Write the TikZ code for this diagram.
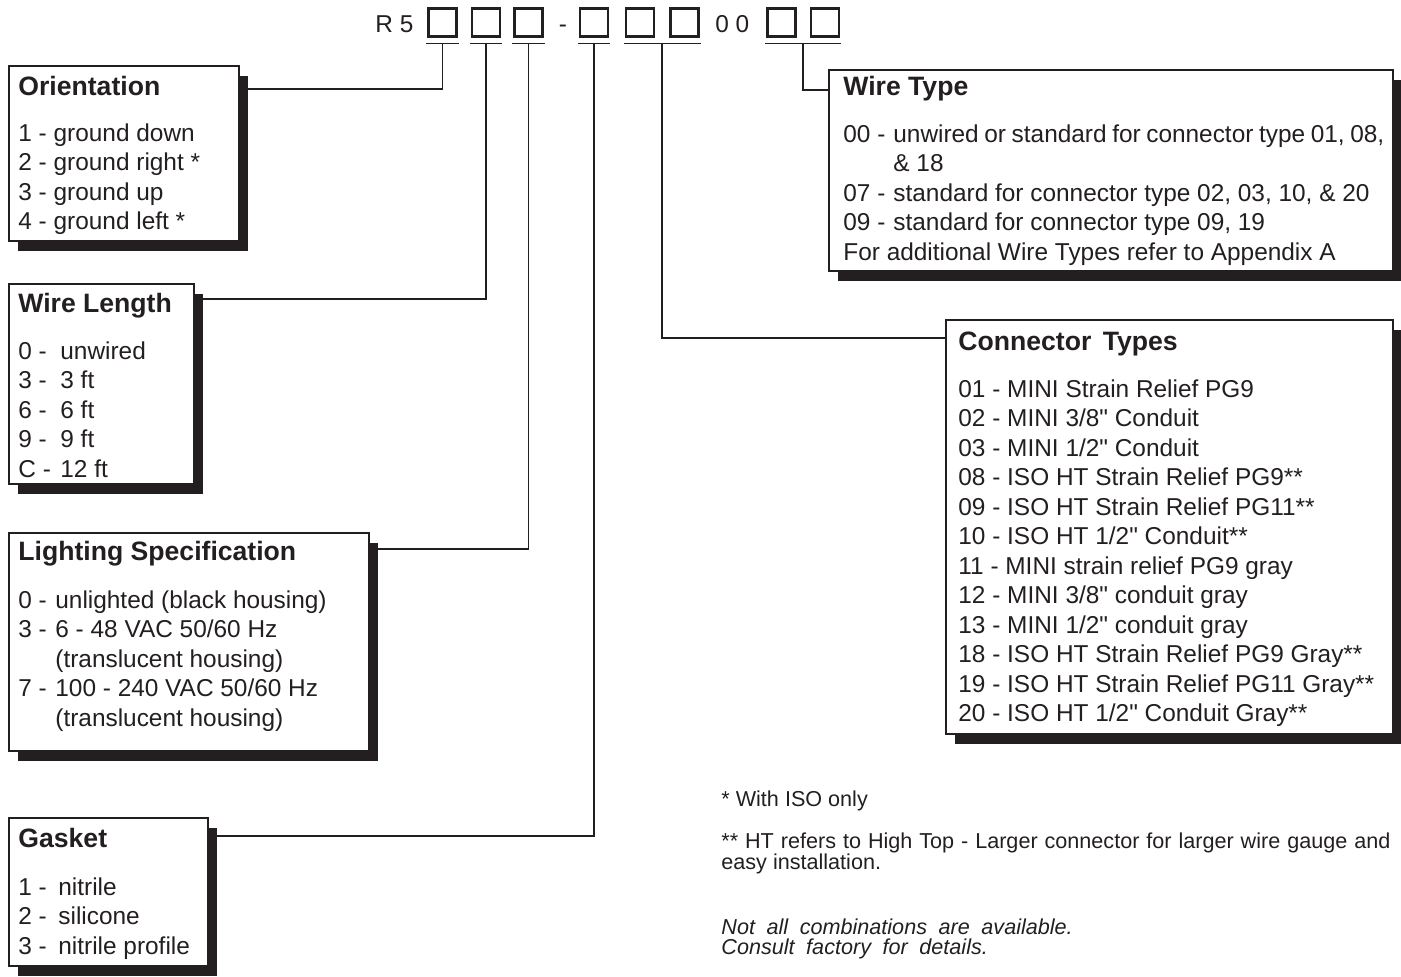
\documentclass[tikz,border=0pt]{standalone}
\usepackage{fontspec}
\setmainfont{Liberation Sans}[Ligatures=TeXReset]
\usetikzlibrary{positioning,calc,shadows}
\definecolor{inkcolor}{RGB}{35,31,32}

\newcommand{\selline}[3][18.5pt]{\makebox[#1][l]{#2}#3}

\begin{document}
\begin{tikzpicture}[x=0.5pt, y=-0.5pt, color=inkcolor,
      digit/.style={draw, line width=1.1pt, minimum size=14pt, inner sep=0pt},
      panel/.style={draw, line width=0.8pt, fill=white, anchor=north west, inner sep=0pt,
                    general shadow={fill=inkcolor, shadow xshift=4.5pt, shadow yshift=-5pt}},
      head/.style={anchor=base west, inner sep=0pt, font=\fontsize{13.3}{16}\selectfont\bfseries},
      items/.style={anchor=north west, inner sep=0pt, align=left, font=\fontsize{12.2}{14.75}\selectfont},
      codetext/.style={inner sep=0pt, font=\fontsize{12.2}{14.75}\selectfont},
      note/.style={anchor=north west, inner sep=0pt, font=\fontsize{10.8}{10.5}\selectfont},
      lead/.style={line width=0.8pt}
    ]
    \useasboundingbox (0,0) rectangle (1401,976);

    % part number
    \node[codetext, anchor=base west] (prefix) at (375,32) {R 5};
    \node[codetext, anchor=base] (dash) at (563,32) {-};
    \node[codetext, anchor=base west] (zeros) at (715,32) {0 0};
    \node[digit] (d1) at (442.5,22.5) {};
    \node[digit] (d2) at (486,22.5) {};
    \node[digit] (d3) at (528.5,22.5) {};
    \node[digit] (d4) at (594,22.5) {};
    \node[digit] (d5) at (640,22.5) {};
    \node[digit] (d6) at (684.5,22.5) {};
    \node[digit] (d7) at (781.5,22.5) {};
    \node[digit] (d8) at (825,22.5) {};
    \draw[lead] ([xshift=-0.5pt,yshift=-3pt]d1.south west) -- ([xshift=0.5pt,yshift=-3pt]d1.south east);
    \draw[lead] ([xshift=-0.5pt,yshift=-3pt]d2.south west) -- ([xshift=0.5pt,yshift=-3pt]d2.south east);
    \draw[lead] ([xshift=-0.5pt,yshift=-3pt]d3.south west) -- ([xshift=0.5pt,yshift=-3pt]d3.south east);
    \draw[lead] ([xshift=-0.5pt,yshift=-3pt]d4.south west) -- ([xshift=0.5pt,yshift=-3pt]d4.south east);
    \draw[lead] ([xshift=-0.5pt,yshift=-3pt]d5.south west) -- ([xshift=0.5pt,yshift=-3pt]d6.south east);
    \draw[lead] ([xshift=-0.5pt,yshift=-3pt]d7.south west) -- ([xshift=0.5pt,yshift=-3pt]d8.south east);
    \coordinate (t1) at ([yshift=-3pt]d1.south);
    \coordinate (t2) at ([yshift=-3pt]d2.south);
    \coordinate (t3) at ([yshift=-3pt]d3.south);
    \coordinate (t4) at ([yshift=-3pt]d4.south);
    \coordinate (t56) at ($(d5.south)!.5!(d6.south)+(0,6)$);
    \coordinate (t78) at ($(d7.south)!.5!(d8.south)+(0,6)$);

    % option panels
    \node[panel, minimum width=115pt, minimum height=87.5pt] (orient) at (8,65) {};
    \node[panel, minimum width=92.5pt, minimum height=100pt] (wlen) at (8,283) {};
    \node[panel, minimum width=180pt, minimum height=109pt] (light) at (8,532) {};
    \node[panel, minimum width=99.5pt, minimum height=74pt] (gasket) at (8,817) {};
    \node[panel, minimum width=282pt, minimum height=100.5pt] (wtype) at (828,69) {};
    \node[panel, minimum width=223.5pt, minimum height=207pt] (conn) at (945,319) {};

    \draw[lead] (t1) |- ([yshift=-12pt]orient.north east);
    \draw[lead] (t2) |- ([yshift=-8pt]wlen.north east);
    \draw[lead] (t3) |- ([yshift=-8.5pt]light.north east);
    \draw[lead] (t4) |- ([yshift=-9.5pt]gasket.north east);
    \draw[lead] (t56) |- ([yshift=-9.5pt]conn.north west);
    \draw[lead] (t78) |- ([yshift=-10.5pt]wtype.north west);

    \node[head] (orient-hd) at (18,95.5) {Orientation};
    \node[items] (orient-it) at (18,123) {1 - ground down\\2 - ground right *\\3 - ground up\\4 - ground left *};

    \node[head] (wlen-hd) at (18,312.5) {Wire Length};
    \node[items] (wlen-it) at (18,341) {\selline[21pt]{0 -}{unwired}\\\selline[21pt]{3 -}{3 ft}\\\selline[21pt]{6 -}{6 ft}\\\selline[21pt]{9 -}{9 ft}\\\selline[21pt]{C -}{12 ft}};

    \node[head] (light-hd) at (18,560.5) {Lighting Specification};
    \node[items] (light-it) at (18,590) {\selline{0 -}{unlighted (black housing)}\\\selline{3 -}{6 - 48 VAC 50/60 Hz}\\\selline{}{(translucent housing)}\\\selline{7 -}{100 - 240 VAC 50/60 Hz}\\\selline{}{(translucent housing)}};

    \node[head] (gasket-hd) at (18,847.5) {Gasket};
    \node[items] (gasket-it) at (18,877) {\selline[20pt]{1 -}{nitrile}\\\selline[20pt]{2 -}{silicone}\\\selline[20pt]{3 -}{nitrile profile}};

    \node[head] (wtype-hd) at (843,95.5) {Wire Type};
    \node[items] (wtype-it) at (843,124) {\selline[25pt]{00 -}{\spaceskip=2.8pt\relax unwired or standard for connector type 01, 08,}\\\selline[25pt]{}{\& 18}\\\selline[25pt]{07 -}{standard for connector type 02, 03, 10, \& 20}\\\selline[25pt]{09 -}{standard for connector type 09, 19}\\For additional Wire Types refer to Appendix A};

    \node[head] (conn-hd) at (958,350.5) {Connector\hspace{2pt} Types};
    \node[items] (conn-it) at (958,379) {01 - MINI Strain Relief PG9\\02 - MINI 3/8" Conduit\\03 - MINI 1/2" Conduit\\08 - ISO HT Strain Relief PG9**\\09 - ISO HT Strain Relief PG11**\\10 - ISO HT 1/2" Conduit**\\11 - MINI strain relief PG9 gray\\12 - MINI 3/8" conduit gray\\13 - MINI 1/2" conduit gray\\18 - ISO HT Strain Relief PG9 Gray**\\19 - ISO HT Strain Relief PG11 Gray**\\20 - ISO HT 1/2" Conduit Gray**};

    % footnotes
    \node[note] (iso-note) at (721,790) {* With ISO only};
    \node[note, text width=334.5pt, align=justify] (ht-note) at (721,832) {\noindent** HT refers to High Top - Larger connector for larger wire gauge and easy installation.};
    \node[note, align=left, font=\fontsize{10.8}{10}\selectfont\itshape] (avail-note) at (721,918) {\spaceskip=5.8pt\relax Not all combinations are available.\\\spaceskip=5.8pt\relax Consult factory for details.};
  \end{tikzpicture}
\end{document}
